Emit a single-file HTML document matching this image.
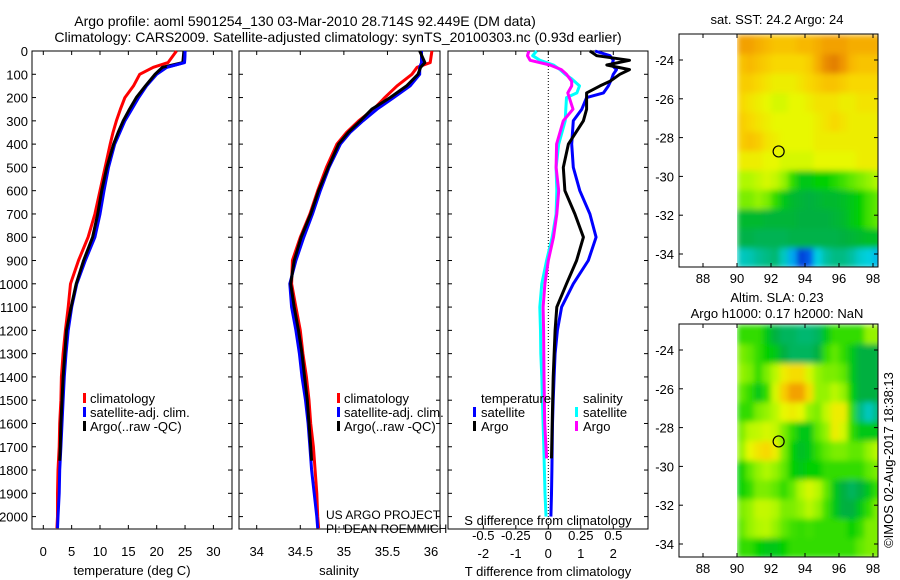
<!DOCTYPE html>
<html><head><meta charset="utf-8">
<style>
html,body{margin:0;padding:0;background:#fff;}
svg{display:block;font-family:"Liberation Sans",Arial,sans-serif;}
text{font-size:13px;fill:#000;}
</style></head>
<body>
<svg id="fig" width="900" height="580" viewBox="0 0 900 580">
<defs>
<filter id="blur" x="0" y="0" width="1" height="1"><feGaussianBlur stdDeviation="3" edgeMode="duplicate"/></filter>
<clipPath id="clipTop"><rect x="737" y="34" width="141" height="233"/></clipPath>
<clipPath id="clipBot"><rect x="737" y="324" width="141" height="233"/></clipPath>
</defs>
<text x="305" y="26" text-anchor="middle" style="font-size:14px">Argo profile: aoml 5901254_130 03-Mar-2010 28.714S 92.449E (DM data)</text>
<text x="338" y="42" text-anchor="middle" style="font-size:14px">Climatology: CARS2009. Satellite-adjusted climatology: synTS_20100303.nc (0.93d earlier)</text>
<g id="g1"></g>
<g id="g2"></g>
<g id="g3"></g>
<g id="m1"></g>
<g id="m2"></g>
<text transform="translate(893,460) rotate(-90)" text-anchor="middle">©IMOS 02-Aug-2017 18:38:13</text>
</svg>
<script>
// ---------- data ----------
const depths = [0,50,70,100,150,200,250,300,350,400,500,600,700,800,900,1000,1100,1200,1300,1400,1500,1600,1700,1800,1900,2000,2050];
const tempClim = [23.5,22,19.4,17,15.9,14.4,13.6,12.9,12.3,11.8,10.9,10,9.1,7.9,6.2,4.8,4.4,3.9,3.5,3.2,3.1,2.9,2.8,2.6,2.5,2.5,2.4];
const tempSat  = [25,24.9,21.8,20,18.2,16.8,15.6,14.4,13.5,12.6,11.5,10.7,10,9.1,7.4,5.9,5,4.4,4,3.7,3.5,3.3,3.1,2.9,2.8,2.6,2.5];
const argoDepths = [0,50,70,100,150,200,250,300,350,400,500,600,700,800,900,1000,1100,1200,1300,1400,1500,1600,1700,1760];
const tempArgo = [24.8,24.6,21,19.7,18,16.4,15.2,14.1,13.2,12.4,11.2,10.3,9.6,8.7,7.1,5.8,4.9,4.1,3.8,3.5,3.3,3.1,3.0,2.9];
const salClim = [36.01,35.99,35.84,35.78,35.61,35.47,35.34,35.17,35.03,34.92,34.80,34.70,34.61,34.50,34.41,34.40,34.45,34.50,34.53,34.57,34.60,34.62,34.65,34.67,34.69,34.70,34.71];
const salSat  = [35.89,35.89,35.87,35.87,35.76,35.57,35.38,35.22,35.07,34.96,34.83,34.73,34.64,34.54,34.45,34.38,34.40,34.45,34.49,34.52,34.56,34.59,34.61,34.63,34.66,34.69,34.70];
const salArgo = [35.87,35.93,35.88,35.85,35.72,35.53,35.32,35.19,35.05,34.94,34.82,34.71,34.62,34.51,34.43,34.39,34.43,34.48,34.52,34.55,34.58,34.60,34.62,34.63];
const diffDepths = [0,20,40,60,80,100,120,150,180,200,250,300,400,500,600,700,800,900,1000,1100,1200,1300,1400,1500,1600,1700,1800,1900,2000];
const dTsat = [1.44,1.9,2.0,1.95,2.1,2.0,1.95,1.85,1.7,1.18,1.03,0.77,0.72,0.77,0.97,1.28,1.47,1.23,0.77,0.41,0.28,0.21,0.18,0.15,0.13,0.12,0.11,0.1,0.08];
const dSsat = [-0.09,-0.12,-0.064,0.04,0.09,0.13,0.18,0.24,0.22,0.14,0.135,0.13,0.08,0.06,0.065,0.06,0.03,-0.013,-0.05,-0.065,-0.06,-0.058,-0.05,-0.045,-0.04,-0.035,-0.03,-0.025,-0.018];
const argoDiffDepths = [0,20,40,60,80,100,130,150,180,250,300,400,500,600,700,800,900,1000,1100,1200,1400,1600,1750];
const dTargo = [1.28,1.49,2.5,1.8,2.5,2.2,1.9,1.59,1.18,1.18,1.08,0.62,0.46,0.51,0.82,1.08,0.87,0.56,0.26,0.21,0.15,0.12,0.1];
const dSargo = [-0.15,-0.16,-0.14,0.013,0.1,0.14,0.18,0.18,0.15,0.19,0.115,0.064,0.06,0.08,0.065,0.04,0,-0.026,-0.04,-0.036,-0.033,-0.028,-0.013];
const depthTicks = [0,100,200,300,400,500,600,700,800,900,1000,1100,1200,1300,1400,1500,1600,1700,1800,1900,2000];
const tempTicks = [0,5,10,15,20,25,30];
const salTicks = [34,34.5,35,35.5,36];
const salTickLabels = ["34","34.5","35","35.5","36"];
const tdTicks = [-2,-1,0,1,2];
const sdTicks = [-0.5,-0.25,0,0.25,0.5];
const sdTickLabels = ["-0.5","-0.25","0","0.25","0.5"];
const mapLons = [88,90,92,94,96,98];
const mapLats = [-24,-26,-28,-30,-32,-34];
const sstGrid = [
[.86,.86,.84,.82,.8,.8,.8,.82,.82,.84,.86,.86,.86,.84,.84,.84,.84],
[.8,.82,.8,.78,.76,.76,.76,.76,.78,.84,.9,.92,.88,.82,.8,.8,.8],
[.78,.78,.76,.74,.72,.72,.72,.74,.76,.78,.8,.8,.78,.76,.76,.76,.76],
[.76,.74,.72,.7,.68,.68,.7,.7,.72,.74,.74,.74,.72,.72,.74,.74,.74],
[.78,.76,.74,.72,.7,.7,.7,.7,.7,.72,.74,.76,.74,.72,.72,.72,.72],
[.78,.8,.78,.74,.72,.7,.7,.7,.7,.72,.72,.72,.72,.72,.72,.72,.72],
[.72,.72,.72,.7,.7,.68,.68,.68,.68,.7,.7,.7,.7,.7,.72,.72,.72],
[.64,.64,.66,.68,.66,.62,.55,.5,.5,.52,.52,.54,.56,.58,.6,.62,.64],
[.6,.6,.62,.6,.55,.5,.47,.46,.45,.46,.47,.47,.48,.5,.52,.56,.58],
[.47,.47,.47,.46,.46,.46,.46,.45,.45,.45,.45,.46,.47,.5,.52,.56,.58],
[.44,.44,.43,.43,.43,.43,.44,.44,.44,.44,.44,.44,.45,.46,.47,.48,.48],
[.3,.32,.36,.38,.4,.3,.2,.1,.12,.25,.35,.38,.38,.35,.28,.25,.22]];
const slaGrid = [
[.55,.55,.55,.5,.45,.42,.42,.4,.4,.42,.5,.55,.55,.55,.55,.62,.62],
[.6,.58,.55,.52,.5,.45,.42,.42,.42,.45,.55,.58,.55,.5,.45,.45,.45],
[.62,.6,.55,.6,.65,.72,.75,.75,.68,.62,.6,.6,.58,.5,.45,.45,.45],
[.58,.55,.5,.55,.68,.78,.86,.86,.75,.62,.62,.65,.62,.52,.45,.45,.45],
[.55,.55,.6,.62,.65,.7,.72,.7,.62,.6,.66,.72,.72,.55,.38,.3,.38],
[.6,.65,.66,.68,.66,.6,.55,.5,.5,.58,.62,.72,.68,.55,.5,.5,.5],
[.62,.7,.74,.76,.72,.6,.52,.48,.5,.55,.58,.6,.6,.58,.58,.62,.65],
[.52,.58,.62,.64,.62,.58,.52,.5,.52,.52,.55,.55,.55,.55,.55,.58,.6],
[.52,.55,.6,.6,.58,.55,.58,.64,.68,.65,.58,.5,.45,.42,.45,.5,.55],
[.6,.62,.66,.66,.64,.6,.6,.62,.65,.62,.56,.5,.45,.45,.5,.55,.6],
[.58,.62,.64,.65,.62,.58,.56,.55,.56,.55,.55,.55,.55,.52,.55,.6,.6],
[.55,.55,.52,.5,.5,.52,.55,.55,.55,.55,.55,.55,.55,.55,.58,.6,.6]];
const argoLon = 92.449, argoLat = -28.714;

// ---------- helpers ----------
const NS="http://www.w3.org/2000/svg";
function mk(parent,tag,attrs){const e=document.createElementNS(NS,tag);for(const k in attrs)e.setAttribute(k,attrs[k]);parent.appendChild(e);return e;}
const yD = d => 51 + d*0.2328;
const PTOP=51, PBOT=529;
function frame(g,x0,x1,name){
  const r=mk(g,'rect',{x:x0,y:PTOP,width:x1-x0,height:PBOT-PTOP,fill:'none',stroke:'#000','stroke-width':1});
  
  
  depthTicks.forEach(d=>{
    mk(g,'line',{x1:x0,x2:x0+4,y1:yD(d),y2:yD(d),stroke:'#000'});
    mk(g,'line',{x1:x1-4,x2:x1,y1:yD(d),y2:yD(d),stroke:'#000'});
  });
}
function xticks(g,vals,labels,fx,ylab,name){
  vals.forEach((v,i)=>{
    const x=fx(v);
    mk(g,'line',{x1:x,x2:x,y1:PBOT,y2:PBOT-4,stroke:'#000'});
    mk(g,'line',{x1:x,x2:x,y1:PTOP,y2:PTOP+4,stroke:'#000'});
    const t=mk(g,'text',{x:x,y:ylab,'text-anchor':'middle'});t.textContent=labels[i];
    
    
  });
}
function line(g,xs,ds,fx,color,name){
  const pts=xs.map((v,i)=>fx(v).toFixed(1)+','+yD(ds[i]).toFixed(1)).join(' ');
  const p=mk(g,'polyline',{points:pts,fill:'none',stroke:color,'stroke-width':3,'stroke-linejoin':'round'});
  
  
}
function txt(g,x,y,s,name,anchor){
  const t=mk(g,'text',{x:x,y:y,'text-anchor':anchor||'start'});t.textContent=s;
  
  
  return t;
}
function legMark(g,x,y,color){
  const r=mk(g,'rect',{x:x,y:y-10,width:3,height:10,fill:color});
  
  
}

// ---------- panel 1: temperature ----------
const g1=document.getElementById('g1');
const fT = t => 43.3 + 5.67*t;
frame(g1,32,232,'temperature-axes');
depthTicks.forEach(d=>txt(g1,28,yD(d)+5,String(d),'depth-tick-label','end'));
xticks(g1,tempTicks,tempTicks.map(String),fT,556,'temperature-tick-label');
txt(g1,132,575,'temperature (deg C)','x-axis-title-temperature','middle');
line(g1,tempClim,depths,fT,'#ff0000','temperature-climatology-line');
line(g1,tempSat,depths,fT,'#0000ff','temperature-satellite-line');
line(g1,tempArgo,argoDepths,fT,'#000000','temperature-argo-line');
line(g1,tempSat.slice(0,3),depths.slice(0,3),fT,'#0000ff','temperature-satellite-surface');
legMark(g1,83,403,'#ff0000');txt(g1,90,403,'climatology','legend-climatology');
legMark(g1,83,417,'#0000ff');txt(g1,90,417,'satellite-adj. clim.','legend-satellite');
legMark(g1,83,431,'#000000');txt(g1,90,431,'Argo(..raw -QC)','legend-argo');

// ---------- panel 2: salinity ----------
const g2=document.getElementById('g2');
const fS = s => 256.7 + (s-34)*87.17;
frame(g2,239,440,'salinity-axes');
xticks(g2,salTicks,salTickLabels,fS,556,'salinity-tick-label');
txt(g2,339,575,'salinity','x-axis-title-salinity','middle');
line(g2,salClim,depths,fS,'#ff0000','salinity-climatology-line');
line(g2,salSat,depths,fS,'#0000ff','salinity-satellite-line');
line(g2,salArgo,argoDepths,fS,'#000000','salinity-argo-line');
legMark(g2,337,403,'#ff0000');txt(g2,344,403,'climatology','legend-climatology');
legMark(g2,337,417,'#0000ff');txt(g2,344,417,'satellite-adj. clim.','legend-satellite');
legMark(g2,337,431,'#000000');txt(g2,344,431,'Argo(..raw -QC)','legend-argo');
txt(g2,326,519,'US ARGO PROJECT','project-credit').setAttribute('style','font-size:12px');
txt(g2,326,533,'PI: DEAN ROEMMICH','pi-credit').setAttribute('style','font-size:12px');

// ---------- panel 3: differences ----------
const g3=document.getElementById('g3');
const fTd = t => 548.3 + 32.5*t;
const fSd = s => 548.3 + 130*s;
frame(g3,448,648,'difference-axes');
mk(g3,'line',{x1:fTd(0),x2:fTd(0),y1:PTOP,y2:PBOT,stroke:'#000','stroke-dasharray':'1,2'});
xticks(g3,tdTicks,tdTicks.map(String),fTd,558,'t-diff-tick-label');
sdTicks.forEach((v,i)=>txt(g3,fSd(v),540,sdTickLabels[i],'s-diff-tick-label','middle'));
txt(g3,548,525,'S difference from climatology','s-diff-axis-title','middle');
txt(g3,548,576,'T difference from climatology','t-diff-axis-title','middle');
line(g3,dSsat,diffDepths,fSd,'#00ffff','salinity-satellite-diff-line');
line(g3,dSargo,argoDiffDepths,fSd,'#ff00ff','salinity-argo-diff-line');
line(g3,dTsat,diffDepths,fTd,'#0000ff','temperature-satellite-diff-line');
line(g3,dTargo,argoDiffDepths,fTd,'#000000','temperature-argo-diff-line');
txt(g3,481,403,'temperature','legend-temperature-header');
legMark(g3,473,417,'#0000ff');txt(g3,481,417,'satellite','legend-t-satellite');
legMark(g3,473,431,'#000000');txt(g3,481,431,'Argo','legend-t-argo');
txt(g3,583,403,'salinity','legend-salinity-header');
legMark(g3,575,417,'#00ffff');txt(g3,583,417,'satellite','legend-s-satellite');
legMark(g3,575,431,'#ff00ff');txt(g3,583,431,'Argo','legend-s-argo');

// ---------- maps ----------
const stops=[[0.08,[0,40,200]],[0.15,[0,128,255]],[0.25,[0,208,224]],[0.35,[0,192,160]],[0.45,[0,176,64]],[0.52,[0,208,0]],[0.58,[96,232,0]],[0.64,[176,248,0]],[0.7,[232,248,0]],[0.76,[248,216,0]],[0.82,[248,184,0]],[0.88,[240,150,0]],[0.95,[216,110,0]]];
function cmap(v){
  if(v<=stops[0][0])return 'rgb('+stops[0][1]+')';
  for(let i=1;i<stops.length;i++){
    if(v<=stops[i][0]){const a=stops[i-1],b=stops[i];const f=(v-a[0])/(b[0]-a[0]);
      return 'rgb('+a[1].map((c,k)=>Math.round(c+(b[1][k]-c)*f)).join(',')+')';}
  }
  return 'rgb('+stops[stops.length-1][1]+')';
}
function drawMap(id,y0,grid,clip,titles){
  const g=document.getElementById(id);
  const fx = lon => 703 + (lon-88)*17;
  const fy = lat => y0+26 + (-24-lat)*19.4;
  titles.forEach(t=>txt(g,777,t[1],t[0],'map-title','middle'));
  const cg=mk(g,'g',{'clip-path':'url(#'+clip+')'});
  const bg=mk(cg,'g',{filter:'url(#blur)'});
  grid.forEach((row,r)=>row.forEach((v,c)=>{
    const lon=90+c*0.5, lat=-22.7-r;
    const x=fx(lon), y=fy(lat);
    const cell=mk(bg,'rect',{x:x.toFixed(1),y:y.toFixed(1),width:9,height:20,fill:cmap(v)});
    
    
  }));
  const fr=mk(g,'rect',{x:679,y:y0,width:199,height:233,fill:'none',stroke:'#000'});
  
  
  mapLons.forEach(l=>{const x=fx(l);
    mk(g,'line',{x1:x,x2:x,y1:y0+233,y2:y0+229,stroke:'#000'});
    mk(g,'line',{x1:x,x2:x,y1:y0,y2:y0+4,stroke:'#000'});
    txt(g,x,y0+249,String(l),'map-lon-label','middle');});
  mapLats.forEach(l=>{const y=fy(l);
    mk(g,'line',{x1:679,x2:683,y1:y,y2:y,stroke:'#000'});
    mk(g,'line',{x1:874,x2:878,y1:y,y2:y,stroke:'#000'});
    txt(g,674,y+5,String(l),'map-lat-label','end');});
  const c=mk(g,'circle',{cx:fx(argoLon),cy:fy(argoLat),r:5.5,fill:'none',stroke:'#000','stroke-width':1.2});
  
  
}
drawMap('m1',34,sstGrid,'clipTop',[['sat. SST: 24.2 Argo: 24',24]]);
drawMap('m2',324,slaGrid,'clipBot',[['Altim. SLA: 0.23',302],['Argo h1000: 0.17 h2000: NaN',318]]);
</script>
</body></html>
